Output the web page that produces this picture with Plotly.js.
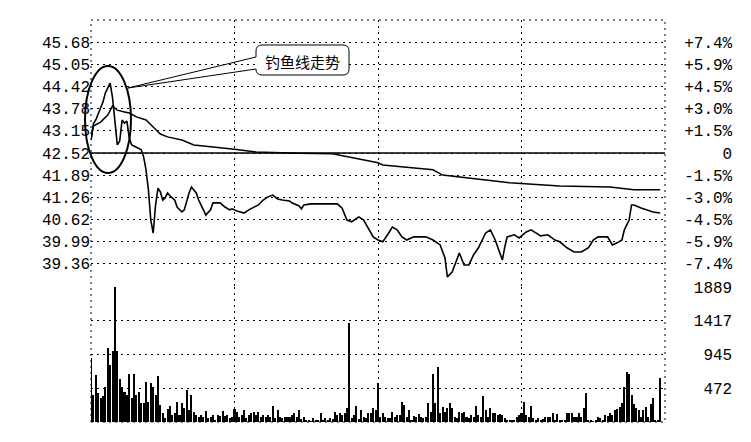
<!DOCTYPE html>
<html><head><meta charset="utf-8">
<script src="https://cdn.plot.ly/plotly-3.0.1.min.js"></script>
<style>html,body{margin:0;padding:0;background:#fff;}#chart{width:751px;height:442px;}</style>
</head><body><div id="chart"></div>
<script>
// ---- data ----
const priceMinute = [0,1,2,4,5,6,7,8,9,10,11,12,13,14,15,16,17,18,20,21,22,23,24,25,26,27,28,29,30,31,32,33,35,36,38,39,41,42,44,45,47,48,50,51,54,56,58,59,61,63,64,66,68,70,72,74,76,78,80,83,84,87,88,89,92,96,100,103,105,107,109,112,114,116,118,120,122,124,126,128,130,132,135,138,140,143,146,148,149,151,153,154,156,158,160,162,165,167,169,171,172,173,174,177,179,182,184,188,191,194,196,199,202,205,208,210,212,216,218,220,222,223,225,226,227,230,232,235,238];
const priceValue = [42.89,43.35,43.46,43.80,43.97,44.23,44.37,44.51,44.10,43.46,42.75,42.86,43.46,43.37,43.43,42.95,42.75,42.72,42.66,42.61,42.41,42.04,41.47,40.61,40.24,41.04,41.52,41.41,41.18,41.24,41.38,41.30,41.18,40.98,40.84,40.90,41.38,41.55,41.38,41.18,40.90,40.75,40.90,41.10,41.10,40.98,40.90,40.93,40.87,40.84,40.81,40.90,40.98,41.04,41.18,41.27,41.32,41.21,41.18,41.15,41.10,41.01,40.93,41.04,41.07,41.07,41.07,41.07,40.95,40.61,40.56,40.70,40.61,40.38,40.13,40.04,39.99,40.19,40.41,40.33,40.13,40.04,40.13,40.13,40.13,40.04,39.90,39.53,38.99,39.13,39.47,39.67,39.33,39.33,39.62,39.82,40.24,40.33,40.04,39.62,39.47,39.84,40.13,40.19,40.10,40.27,40.33,40.16,40.19,40.04,39.99,39.82,39.70,39.70,39.82,40.04,40.13,40.13,39.90,39.96,40.04,40.33,40.61,41.04,41.04,40.95,40.90,40.84,40.81];
const avgMinute = [0,1,4,7,9,11,14,16,19,23,26,29,32,38,43,52,60,69,78,87,101,106,114,120,122,143,147,157,175,196,217,227,238];
const avgValue = [42.89,43.29,43.40,43.60,43.86,43.74,43.69,43.66,43.55,43.46,43.26,43.06,42.98,42.89,42.75,42.69,42.63,42.55,42.52,42.51,42.50,42.43,42.32,42.24,42.18,42.04,41.89,41.81,41.67,41.58,41.55,41.47,41.47];
const volume = [
 900,380,660,400,330,370,490,1030,800,1000,
 1889,1000,600,490,420,380,670,330,670,380,
 420,260,260,560,280,540,490,380,640,
 238,121,51,177,224,98,121,284,98,261,200,447,
 170,377,144,98,75,98,75,154,51,75,98,28,98,84,154,84,98,51,75,
 182,
 144,75,98,168,51,98,130,144,98,
 144,75,98,75,98,75,224,51,168,75,
 51,75,75,75,98,121,75,168,37,75,
 28,28,19,51,28,28,130,28,51,28,
 51,37,144,98,130,98,121,200,1385,51,
 98,224,37,168,75,51,121,130,191,168,
 541,
 75,121,75,51,51,144,75,98,98,284,
 238,75,168,28,84,75,107,75,51,75,
 261,144,666,261,773,121,205,144,191,261,
 191,75,51,144,121,144,75,51,98,75,
 224,98,75,363,168,75,191,121,121,98,
 107,98,51,28,28,28,28,65,98,121,
 284,98,65,224,51,28,51,28,37,75,
 75,75,121,28,107,28,28,28,130,121,
 121,75,75,121,75,191,400,28,28,19,
 28,75,51,28,98,84,121,98,168,177,
 214,261,494,704,666,377,247,191,168,75,
 168,214,75,252,331,28,28,610];
const prevClose = 42.52;
const priceTicks = [45.68,45.05,44.42,43.78,43.15,42.52,41.89,41.26,40.62,39.99,39.36];
const priceLabels = ['45.68','45.05','44.42','43.78','43.15','42.52','41.89','41.26','40.62','39.99','39.36'];
const pctLabels = ['+7.4%','+5.9%','+4.5%','+3.0%','+1.5%','0','-1.5%','-3.0%','-4.5%','-5.9%','-7.4%'];
const volTicks = [472,945,1417,1889];
const volLabels = ['472','945','1417','1889'];
const timeTicks = [0,60,120,180,240];
const calloutText = '钓鱼线走势';

// ---- layout helpers ----
const W=751,H=442,L=91,R=86,T=20,B=20;
const pw=W-L-R, ph=H-T-B;
const px = x => (x-L)/pw;
const py = y => (H-B-y)/ph;
const P = (x,y) => px(x).toFixed(5)+','+py(y).toFixed(5);
const pad = (s,n) => '\u00A0'.repeat(Math.max(0,n-s.length)) + s;
const dots = '2px,4px';
const tfont = {family:'Liberation Mono, DejaVu Sans Mono, monospace', size:16, color:'#000'};
const pRange = [38.73, 46.31];
const tEnd = timeTicks[timeTicks.length-1];

const volMinute = volume.map((v,i)=>i);
const traces = [
 {x: volMinute, y: volume, type:'bar', xaxis:'x', yaxis:'y3', width:0.85,
  marker:{color:'#000', line:{width:0}}, hoverinfo:'skip'},
 {x:[timeTicks[0], tEnd], y:[prevClose, prevClose], xaxis:'x', yaxis:'y2', mode:'lines',
  line:{color:'#000', width:1.5}, hoverinfo:'skip'},
 {x: avgMinute, y: avgValue, xaxis:'x', yaxis:'y', mode:'lines', line:{color:'#000', width:1.5}, hoverinfo:'skip'},
 {x: priceMinute, y: priceValue, xaxis:'x', yaxis:'y', mode:'lines', line:{color:'#000', width:1.6}, hoverinfo:'skip'}
];

// callout box outline (rounded) with pointer
const bx0=256, bx1=349, by0=45, by1=75, r=6, tipX=128, tipY=88, aTop=57, aBot=69;
const boxFill = 'M'+P(bx0+r,by0)+' L'+P(bx1-r,by0)+' Q'+P(bx1,by0)+' '+P(bx1,by0+r)+' L'+P(bx1,by1-r)+' Q'+P(bx1,by1)+' '+P(bx1-r,by1)+
 ' L'+P(bx0+r,by1)+' Q'+P(bx0,by1)+' '+P(bx0,by1-r)+' L'+P(bx0,by0+r)+' Q'+P(bx0,by0)+' '+P(bx0+r,by0)+' Z';
const boxLine = 'M'+P(bx0,aTop)+' L'+P(bx0,by0+r)+' Q'+P(bx0,by0)+' '+P(bx0+r,by0)+' L'+P(bx1-r,by0)+' Q'+P(bx1,by0)+' '+P(bx1,by0+r)+
 ' L'+P(bx1,by1-r)+' Q'+P(bx1,by1)+' '+P(bx1-r,by1)+' L'+P(bx0+r,by1)+' Q'+P(bx0,by1)+' '+P(bx0,by1-r)+
 ' L'+P(bx0,aBot)+' L'+P(tipX,tipY)+' L'+P(bx0,aTop);

const layout = {
 width:W, height:H, margin:{l:L,r:R,t:T,b:B,pad:0}, paper_bgcolor:'#fff', plot_bgcolor:'#fff',
 showlegend:false, font:tfont, bargap:0,
 xaxis:{range:[timeTicks[0], tEnd], tickvals:timeTicks, showticklabels:false, ticks:'',
  showgrid:true, gridcolor:'#000', griddash:dots, gridwidth:1, zeroline:false, showline:false, anchor:'y3'},
 yaxis:{domain:[0.3383,1], range:pRange, tickvals:priceTicks, ticktext:priceLabels,
  showgrid:true, gridcolor:'#000', griddash:dots, gridwidth:1, zeroline:false, showline:false,
  ticks:'', tickfont:tfont, anchor:'x'},
 yaxis2:{overlaying:'y', side:'right', range:pRange, tickvals:priceTicks, ticktext:pctLabels.map(s=>pad(s,5)),
  showgrid:false, zeroline:false, showline:false, ticks:'outside', ticklen:15, tickcolor:'rgba(0,0,0,0)', tickfont:tfont, anchor:'x'},
 yaxis3:{domain:[0,0.3358], range:[0, volTicks[volTicks.length-1]], side:'right', tickvals:volTicks,
  ticktext:volLabels.map(s=>pad(s,5)), showgrid:true, gridcolor:'#000', griddash:dots, gridwidth:1,
  zeroline:false, showline:false, ticks:'outside', ticklen:15, tickcolor:'rgba(0,0,0,0)', tickfont:tfont, anchor:'x'},
 shapes:[
  {type:'rect', xref:'paper', yref:'paper', x0:0, x1:1, y0:0, y1:1, line:{color:'#000', width:1, dash:dots}, layer:'above'},
  {type:'circle', xref:'paper', yref:'paper', x0:px(85), x1:px(131), y0:py(173), y1:py(66), line:{color:'#000', width:2}, layer:'above'},
  {type:'path', xref:'paper', yref:'paper', path:boxFill, fillcolor:'#fff', line:{width:0}, layer:'above'},
  {type:'path', xref:'paper', yref:'paper', path:boxLine, fillcolor:'rgba(0,0,0,0)', line:{color:'#000', width:1}, layer:'above'}
 ],
 annotations:[
  {xref:'paper', yref:'paper', x:px(302.5), y:py(61), text:calloutText, showarrow:false,
   font:{family:'Noto Sans CJK SC, sans-serif', size:15, color:'#000'}, xanchor:'center', yanchor:'middle'}
 ]
};
Plotly.newPlot('chart', traces, layout, {staticPlot:true, displayModeBar:false});
</script></body></html>
